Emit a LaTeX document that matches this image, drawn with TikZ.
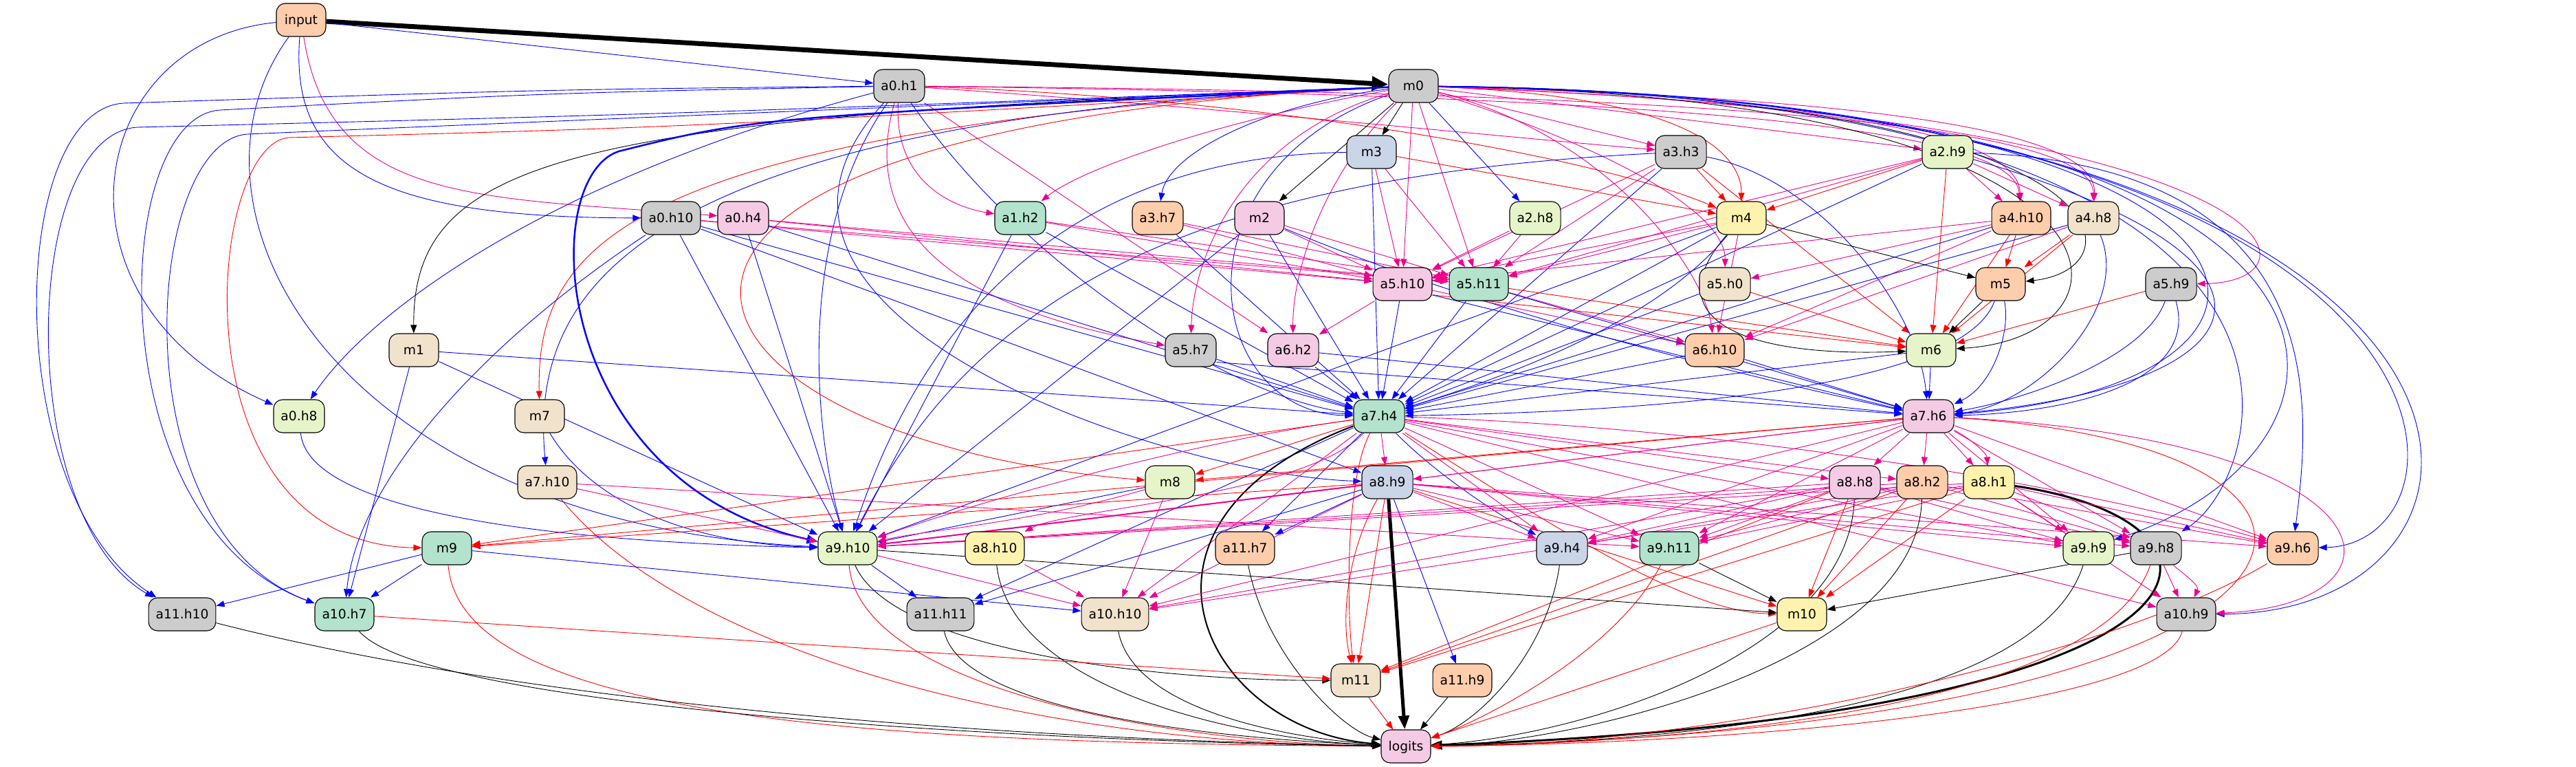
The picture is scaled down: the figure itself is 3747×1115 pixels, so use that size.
\documentclass[tikz,border=0pt]{standalone}
\usepackage{fontspec}
\setmainfont{DejaVu Sans}
\usetikzlibrary{arrows.meta}
\definecolor{cg}{HTML}{B3E2CD}
\definecolor{co}{HTML}{FDCDAC}
\definecolor{cb}{HTML}{CBD5E8}
\definecolor{cp}{HTML}{F4CAE4}
\definecolor{cl}{HTML}{E6F5C9}
\definecolor{cy}{HTML}{FFF2AE}
\definecolor{ce}{HTML}{F1E2CC}
\definecolor{cs}{HTML}{CCCCCC}
\pgfdeclarelayer{bg}
\pgfsetlayers{bg,main}
\begin{document}
\begin{tikzpicture}[x=1pt,y=1pt,
  nd/.style={draw=black, line width=1.1pt, rounded corners=13pt, minimum width=72pt, minimum height=48pt, inner xsep=10.5pt, inner ysep=0pt, text height=13.6pt, text depth=0pt, font=\fontsize{18.7}{20}\selectfont},
  ed/.style={line width=0.9pt, -{Triangle[length=12pt,width=9pt]}},
  eb/.style={ed, draw=blue},
  em/.style={ed, draw=magenta},
  er/.style={ed, draw=red},
  ek/.style={ed, draw=black}]
\useasboundingbox (0,0) rectangle (3747,-1115);
% nodes
\node[nd,fill=co] (input) at (438,-29) {input};
\node[nd,fill=cs] (a0h1) at (1308,-125) {a0.h1};
\node[nd,fill=cs] (m0) at (2056,-125) {m0};
\node[nd,fill=cb] (m3) at (1995,-221) {m3};
\node[nd,fill=cs] (a3h3) at (2445,-221) {a3.h3};
\node[nd,fill=cl] (a2h9) at (2833,-221) {a2.h9};
\node[nd,fill=cs] (a0h10) at (976,-317) {a0.h10};
\node[nd,fill=cp] (a0h4) at (1081,-317) {a0.h4};
\node[nd,fill=cg] (a1h2) at (1484,-317) {a1.h2};
\node[nd,fill=co] (a3h7) at (1684,-317) {a3.h7};
\node[nd,fill=cp] (m2) at (1832,-317) {m2};
\node[nd,fill=cl] (a2h8) at (2233,-317) {a2.h8};
\node[nd,fill=cy] (m4) at (2533,-317) {m4};
\node[nd,fill=co] (a4h10) at (2940,-317) {a4.h10};
\node[nd,fill=ce] (a4h8) at (3045,-317) {a4.h8};
\node[nd,fill=cp] (a5h10) at (2040,-413) {a5.h10};
\node[nd,fill=cg] (a5h11) at (2151,-413) {a5.h11};
\node[nd,fill=ce] (a5h0) at (2509,-413) {a5.h0};
\node[nd,fill=co] (m5) at (2910,-413) {m5};
\node[nd,fill=cs] (a5h9) at (3158,-413) {a5.h9};
\node[nd,fill=ce] (m1) at (602,-509) {m1};
\node[nd,fill=cs] (a5h7) at (1732,-509) {a5.h7};
\node[nd,fill=cp] (a6h2) at (1881,-509) {a6.h2};
\node[nd,fill=co] (a6h10) at (2494,-509) {a6.h10};
\node[nd,fill=cl] (m6) at (2809,-509) {m6};
\node[nd,fill=cl] (a0h8) at (435,-605) {a0.h8};
\node[nd,fill=ce] (m7) at (785,-605) {m7};
\node[nd,fill=cg] (a7h4) at (2006,-605) {a7.h4};
\node[nd,fill=cp] (a7h6) at (2805,-605) {a7.h6};
\node[nd,fill=ce] (a7h10) at (796,-701) {a7.h10};
\node[nd,fill=cl] (m8) at (1702,-701) {m8};
\node[nd,fill=cb] (a8h9) at (2018,-701) {a8.h9};
\node[nd,fill=cp] (a8h8) at (2698,-701) {a8.h8};
\node[nd,fill=co] (a8h2) at (2796,-701) {a8.h2};
\node[nd,fill=cy] (a8h1) at (2893,-701) {a8.h1};
\node[nd,fill=cg] (m9) at (650,-797) {m9};
\node[nd,fill=cl] (a9h10) at (1233,-797) {a9.h10};
\node[nd,fill=cy] (a8h10) at (1447,-797) {a8.h10};
\node[nd,fill=co] (a11h7) at (1811,-797) {a11.h7};
\node[nd,fill=cb] (a9h4) at (2272,-797) {a9.h4};
\node[nd,fill=cg] (a9h11) at (2428,-797) {a9.h11};
\node[nd,fill=cl] (a9h9) at (3038,-797) {a9.h9};
\node[nd,fill=cs] (a9h8) at (3136,-797) {a9.h8};
\node[nd,fill=co] (a9h6) at (3335,-797) {a9.h6};
\node[nd,fill=cs] (a11h10) at (265,-893) {a11.h10};
\node[nd,fill=cg] (a10h7) at (501,-893) {a10.h7};
\node[nd,fill=cs] (a11h11) at (1368,-893) {a11.h11};
\node[nd,fill=ce] (a10h10) at (1622,-893) {a10.h10};
\node[nd,fill=cy] (m10) at (2621,-893) {m10};
\node[nd,fill=cs] (a10h9) at (3180,-893) {a10.h9};
\node[nd,fill=ce] (m11) at (1972,-989) {m11};
\node[nd,fill=co] (a11h9) at (2127,-989) {a11.h9};
\node[nd,fill=cp] (logits) at (2045,-1085) {logits};
\begin{pgfonlayer}{bg}
\fill[white] (0,0) rectangle (3747,-1115);
% input
\draw[ek,line width=7pt,-{Triangle[length=24pt,width=20pt]}] (input) -- (m0);
\draw[eb] (input) -- (a0h1);
\draw[eb] (input) .. controls (120,-60) and (60,-440) .. (a0h8);
\draw[eb] (input) .. controls (420,-250) and (560,-316) .. (a0h10);
\draw[em] (input) .. controls (480,-300) and (700,-285) .. (a0h4);
\draw[eb] (input) .. controls (240,-300) and (480,-760) .. (a9h10);
% a0h1
\draw[eb] (a0h1) .. controls (800,-130) .. (180,-150) .. controls (10,-160) and (0,-720) .. (a11h10);
\draw[eb] (a0h1) .. controls (800,-135) .. (320,-160) .. controls (160,-170) and (140,-760) .. (a10h7);
\draw[eb] (a0h1) .. controls (800,-260) and (540,-450) .. (a0h8);
\draw[em] (a0h1) .. controls (1300,-260) and (1380,-300) .. (a1h2);
\draw[em] (a0h1) .. controls (1230,-400) and (1520,-470) .. (a5h7);
\draw[em] (a0h1) -- (a6h2);
\draw[em] (a0h1) .. controls (1700,-150) and (2200,-200) .. (a3h3);
\draw[er] (a0h1) .. controls (1800,-140) and (2300,-220) .. (m4);
\draw[eb] (a0h1) .. controls (1150,-350) and (1190,-650) .. (a9h10);
\draw[eb] (a0h1) .. controls (1500,-400) and (1800,-580) .. (a7h4);
\draw[em] (a0h1) .. controls (2500,-140) and (2930,-190) .. (a4h10);
\draw[em] (a0h1) .. controls (2600,-135) and (3045,-190) .. (a4h8);
\draw[eb] (a0h1) .. controls (1000,-460) and (1700,-690) .. (a8h9);
% m0
\draw[ek] (m0) -- (m3);
\draw[ek] (m0) -- (m2);
\draw[ek] (m0) .. controls (850,-170) and (600,-220) .. (m1);
\draw[er] (m0) .. controls (2450,-140) and (2533,-220) .. (m4);
\draw[er] (m0) .. controls (900,-185) and (780,-360) .. (m7);
\draw[er] (m0) .. controls (700,-190) and (950,-640) .. (m8);
\draw[er] (m0) .. controls (1000,-185) .. (420,-200) .. controls (300,-210) and (250,-790) .. (m9);
\draw[eb,line width=2.5pt,-{Triangle[length=16pt,width=13pt]}] (m0) .. controls (1100,-170) .. (900,-220) .. controls (780,-260) and (800,-700) .. (a9h10);
\draw[eb] (m0) .. controls (1000,-165) .. (200,-185) .. controls (30,-195) and (20,-750) .. (a11h10);
\draw[eb] (m0) .. controls (1000,-168) .. (360,-195) .. controls (210,-205) and (170,-770) .. (a10h7);
\draw[eb] (m0) .. controls (1850,-150) and (1700,-220) .. (a3h7);
\draw[eb] (m0) -- (a2h8);
\draw[em] (m0) .. controls (1800,-170) and (1580,-240) .. (a1h2);
\draw[em] (m0) -- (a3h3);
\draw[em] (m0) -- (a2h9);
\draw[em] (m0) .. controls (2700,-150) and (2935,-200) .. (a4h10);
\draw[em] (m0) .. controls (2800,-145) and (3050,-200) .. (a4h8);
\draw[em] (m0) -- (a5h10);
\draw[em] (m0) -- (a5h11);
\draw[em] (m0) .. controls (2300,-200) and (2510,-300) .. (a5h0);
\draw[em] (m0) .. controls (3350,-170) and (3390,-410) .. (a5h9);
\draw[em] (m0) .. controls (1800,-200) and (1735,-380) .. (a5h7);
\draw[em] (m0) .. controls (1920,-260) and (1880,-400) .. (a6h2);
\draw[em] (m0) .. controls (2350,-200) and (2480,-400) .. (a6h10);
\draw[ek] (m0) .. controls (3100,-140) and (3120,-390) .. (m5);
\draw[ek] (m0) .. controls (3140,-140) and (3130,-490) .. (m6);
\draw[eb] (m0) .. controls (1700,-250) and (1750,-600) .. (a7h4);
\draw[eb] (m0) .. controls (3400,-140) and (3430,-560) .. (a7h6);
\draw[eb] (m0) .. controls (920,-170) and (770,-420) .. (a7h10);
\draw[eb] (m0) .. controls (3480,-140) and (3300,-690) .. (a9h8);
\draw[eb] (m0) .. controls (3640,-140) and (3620,-790) .. (a9h6);
\draw[eb] (m0) .. controls (3740,-140) and (3720,-890) .. (a10h9);
\draw[eb] (m0) .. controls (3540,-140) and (3480,-650) .. (a9h9);
% m3
\draw[er] (m3) -- (m4);
\foreach \t in {a5h10,a5h11} {\draw[em] (m3) -- (\t);}
\draw[eb] (m3) -- (a7h4);
\draw[eb] (m3) .. controls (1450,-228) and (1300,-600) .. (a9h10);
% a3h3
\draw[er] (a3h3) -- (m4);
\draw[er] (a3h3) -- (m6);
\foreach \t in {a5h10,a5h11} {\draw[em] (a3h3) -- (\t);}
\draw[eb] (a3h3) -- (a7h4);
\draw[eb] (a3h3) .. controls (2650,-260) and (2790,-450) .. (a7h6);
\draw[eb] (a3h3) .. controls (1750,-255) and (1420,-420) .. (a9h10);
% a2h9
\foreach \t in {a4h10,a4h8,a5h10,a5h11} {\draw[em] (a2h9) -- (\t);}
\foreach \t in {m4,m6} {\draw[er] (a2h9) -- (\t);}
\draw[eb] (a2h9) -- (a7h4);
\draw[eb] (a2h9) .. controls (3380,-380) and (3300,-560) .. (a7h6);
\draw[eb] (a2h9) .. controls (3400,-240) and (3360,-600) .. (a9h6);
% a0h10, a0h4, a1h2, a3h7, m2, a2h8
\foreach \t in {a5h10,a5h11} {\draw[em] (a0h10) -- (\t); \draw[em] (a0h4) -- (\t); \draw[em] (a1h2) -- (\t); \draw[em] (a3h7) -- (\t); \draw[em] (m2) -- (\t); \draw[em] (a2h8) -- (\t);}
\foreach \t in {a9h10,a7h4,a8h9} {\draw[eb] (a0h10) -- (\t);}
\draw[eb] (a0h10) .. controls (700,-500) and (520,-700) .. (a10h7);
\foreach \t in {a9h10,a7h4} {\draw[eb] (a0h4) -- (\t); \draw[eb] (a1h2) -- (\t); \draw[eb] (m2) -- (\t);}
\draw[eb] (a3h7) -- (a7h4);
\draw[eb] (m2) .. controls (2200,-470) and (2600,-560) .. (a7h6);
% m4
\draw[ek] (m4) -- (m5);
\draw[ek] (m4) .. controls (2400,-470) and (2550,-520) .. (m6);
\draw[eb] (m4) -- (a7h4);
\draw[eb] (m4) .. controls (2400,-480) and (2150,-560) .. (a7h4);
\draw[eb] (m4) -- (a9h10);
\foreach \t in {a5h10,a5h11,a6h10} {\draw[em] (m4) -- (\t);}
% a4h10, a4h8
\foreach \t in {m5,m6} {\draw[er] (a4h10) -- (\t); \draw[er] (a4h8) -- (\t);}
\foreach \t in {a5h10,a5h0,a6h10} {\draw[em] (a4h10) -- (\t);}
\draw[eb] (a4h10) -- (a7h4);
\draw[eb] (a4h8) -- (a7h4);
\draw[eb] (a4h8) .. controls (3100,-450) and (2960,-590) .. (a7h6);
\draw[em] (a4h8) -- (a6h10);
% a5 row
\draw[em] (a5h10) -- (a6h2);
\draw[eb] (a5h10) -- (a7h4);
\draw[em] (a5h10) -- (a6h10);
\draw[er] (a5h10.-20) -- (m6);
\draw[eb] (a5h10.-20) -- (a7h6);
\draw[eb] (a5h11) -- (a7h4);
\draw[em] (a5h11) -- (a6h10);
\draw[er] (a5h11) -- (m6);
\draw[eb] (a5h11) -- (a7h6);
\draw[er] (a5h0) -- (m6);
\draw[eb] (a5h0) -- (a7h4);
\draw[ek] (m5) -- (m6);
\draw[eb] (m5) .. controls (2925,-480) and (2900,-560) .. (a7h6);
\draw[eb] (m5) .. controls (2850,-580) and (2300,-600) .. (a7h4);
\draw[er] (a5h9) -- (m6);
\draw[eb] (a5h9) .. controls (3120,-520) and (2950,-580) .. (a7h6);
\draw[eb] (a5h9) .. controls (3200,-560) and (3000,-600) .. (a7h6);
% row 5/6
\foreach \t in {a7h4,a10h7,a9h10} {\draw[eb] (m1) -- (\t);}
\draw[eb] (a5h7) -- (a7h4);
\draw[eb] (a5h7.-25) -- (a7h6);
\foreach \s in {a6h2,a6h10,m6} {\draw[eb] (\s) -- (a7h4); \draw[eb] (\s) -- (a7h6);}
\draw[eb] (a0h8) .. controls (450,-760) and (900,-790) .. (a9h10);
\draw[eb] (m7) .. controls (860,-730) and (1000,-790) .. (a9h10);
% a7h4
\draw[er] (a7h4) -- (m8);
\foreach \t in {a8h9,a8h8,a8h2,a9h4,a9h11,a9h9,a10h10,a10h9} {\draw[em] (a7h4) -- (\t);}
\draw[em] (a7h4) .. controls (1900,-720) and (1550,-740) .. (a8h10);
\draw[em] (a7h4) .. controls (1750,-640) and (1450,-720) .. (a9h10);
\draw[em] (a7h4) .. controls (2500,-620) and (3000,-700) .. (a9h6);
\draw[eb] (a7h4) .. controls (2100,-700) and (2200,-760) .. (a9h4);
\draw[er] (a7h4) -- (m9);
\draw[er] (a7h4) .. controls (2250,-760) and (2450,-890) .. (m10);
\draw[er] (a7h4) .. controls (1955,-700) and (1960,-900) .. (m11);
\draw[eb] (a7h4) -- (a11h11);
\draw[eb] (a7h4) -- (a11h7);
\draw[ek,line width=2pt,-{Triangle[length=14pt,width=11pt]}] (a7h4) .. controls (1600,-760) and (1750,-1060) .. (logits);
% a7h6
\draw[er] (a7h6) -- (m8);
\foreach \t in {a8h9,a8h8,a8h2,a8h1,a9h10,a9h4,a9h11,a9h9,a9h8,a9h6,a10h10} {\draw[em] (a7h6) -- (\t);}
\draw[em] (a7h6) .. controls (2870,-640) and (2890,-660) .. (a8h1);
\draw[em] (a7h6) .. controls (3500,-640) and (3520,-880) .. (a10h9);
\draw[er] (a7h6) -- (m9);
\draw[er] (a7h6) .. controls (3560,-650) and (3450,-1060) .. (logits);
% a7h10, m8
\draw[em] (a7h10) -- (a9h10);
\draw[em] (a7h10) -- (a9h11);
\draw[er] (a7h10) .. controls (1000,-950) and (1500,-1080) .. (logits);
\draw[eb] (m8) -- (a9h10);
\draw[em] (m8) -- (a10h10);
\draw[em] (m8) .. controls (1500,-760) and (1350,-770) .. (a9h10);
% a8h9
\draw[ek,line width=5pt,-{Triangle[length=20pt,width=15pt]}] (a8h9) -- (logits);
\foreach \t in {a11h7,a11h9,a11h11} {\draw[eb] (a8h9) -- (\t);}
\draw[er] (a8h9) -- (m11);
\draw[er] (a8h9) .. controls (1960,-800) and (1950,-900) .. (m11);
\draw[em,line width=2pt] (a8h9) -- (a9h10);
\foreach \t in {a9h4,a9h11,a9h9,a9h8,a9h6,a10h10} {\draw[em] (a8h9) -- (\t);}
\draw[er] (a8h9) -- (m10);
\draw[er] (a8h9) -- (m9);
% a8h8, a8h2, a8h1
\foreach \t in {m10,m11} {\draw[er] (a8h8) -- (\t); \draw[er] (a8h2) -- (\t); \draw[er] (a8h1) -- (\t);}
\draw[ek] (a8h8) .. controls (2690,-950) and (2300,-1070) .. (logits);
\foreach \t in {a9h10,a9h11,a9h4,a10h10,a9h8,a9h9} {\draw[em] (a8h8) -- (\t);}
\draw[ek] (a8h2) .. controls (2790,-960) and (2300,-1080) .. (logits);
\foreach \t in {a9h11,a9h4,a9h10,a9h8,a9h6} {\draw[em] (a8h2) -- (\t);}
\draw[ek,line width=3pt,-{Triangle[length=16pt,width=13pt]}] (a8h1) .. controls (3300,-760) and (3280,-1040) .. (logits);
\foreach \t in {a9h9,a9h8,a9h6,a9h11,a10h10,a10h9,a9h10} {\draw[em] (a8h1) -- (\t);}
% m9
\draw[eb] (m9) -- (a10h7);
\draw[eb] (m9) -- (a11h10);
\draw[eb] (m9) -- (a10h10);
\draw[er] (m9) .. controls (670,-1050) and (1300,-1080) .. (logits);
% a9h10
\draw[eb] (a9h10) -- (a11h11);
\draw[em] (a9h10) -- (a10h10);
\draw[er] (a9h10) .. controls (1250,-1000) and (1700,-1080) .. (logits);
\draw[ek] (a9h10) .. controls (1300,-950) and (1700,-990) .. (m11);
\draw[ek] (a9h10) -- (m10);
% lower rows
\draw[em] (a8h10) -- (a10h10);
\draw[ek] (a8h10) .. controls (1470,-1000) and (1800,-1075) .. (logits);
\draw[ek] (a11h7) .. controls (1840,-950) and (1950,-1060) .. (logits);
\draw[ek] (a9h4) .. controls (2250,-950) and (2150,-1050) .. (logits);
\draw[ek] (a9h11) -- (m10);
\draw[er] (a9h11) .. controls (2350,-950) and (2150,-1050) .. (logits);
\draw[ek] (a9h9) .. controls (2960,-1040) and (2400,-1080) .. (logits);
\draw[ek] (a9h8) -- (m10);
\draw[em] (a9h8) -- (a10h9);
\draw[em] (a9h8) .. controls (3170,-830) and (3200,-850) .. (a10h9);
\draw[er] (a9h8) .. controls (3060,-1020) and (2500,-1080) .. (logits);
\draw[er] (a9h6) .. controls (3080,-950) and (2500,-1085) .. (logits);
\draw[ek] (a11h10) .. controls (800,-1030) and (1500,-1075) .. (logits);
\draw[ek] (a10h7) .. controls (620,-1030) and (1500,-1078) .. (logits);
\draw[er] (a10h7) -- (m11);
\draw[ek] (a11h11) .. controls (1400,-1040) and (1800,-1075) .. (logits);
\draw[ek] (a10h10) .. controls (1650,-1040) and (1900,-1075) .. (logits);
\draw[er] (m10) -- (logits);
\draw[er] (a10h9) .. controls (3150,-1020) and (2600,-1080) .. (logits);
\draw[er] (m11) -- (logits);
\draw[ek] (a11h9) -- (logits);
\end{pgfonlayer}
\end{tikzpicture}
\end{document}
